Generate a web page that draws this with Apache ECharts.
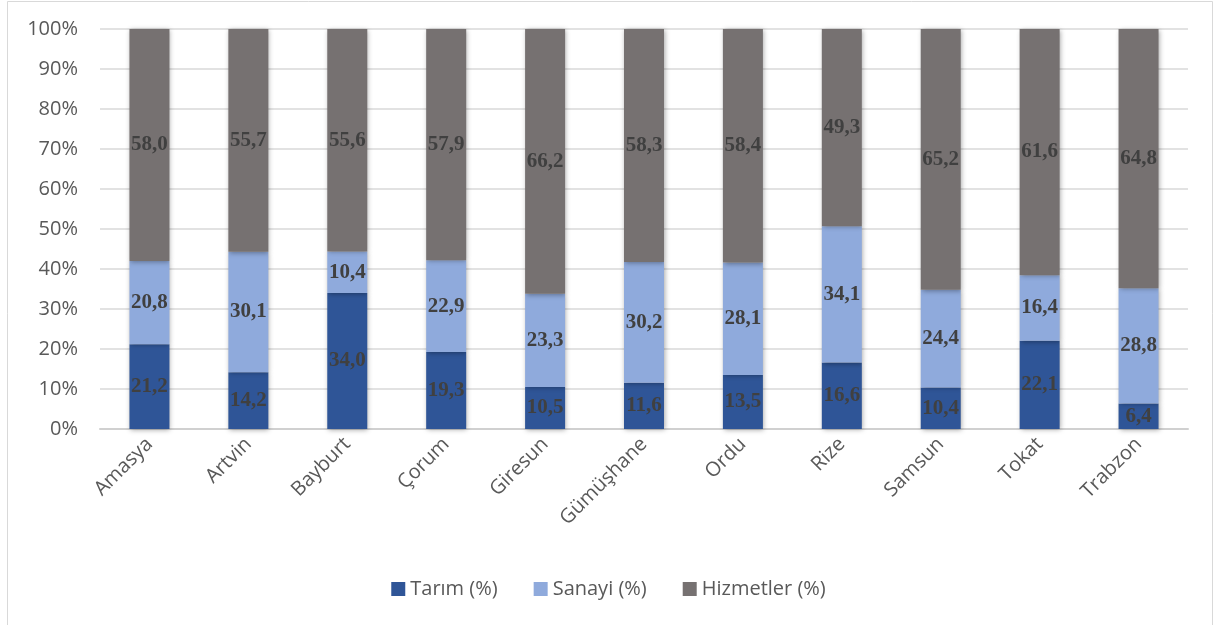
<!DOCTYPE html>
<html>
<head>
<meta charset="utf-8">
<script src="https://cdn.jsdelivr.net/npm/echarts@6/dist/echarts.min.js"></script>
<style>html,body{margin:0;padding:0;background:#fff;}#c{width:1217px;height:625px;}</style>
</head>
<body>
<div id="c"></div>
<script>
const categories = ['Amasya','Artvin','Bayburt','Çorum','Giresun','Gümüşhane','Ordu','Rize','Samsun','Tokat','Trabzon'];
const tarim = [21.2,14.2,34.0,19.3,10.5,11.6,13.5,16.6,10.4,22.1,6.4];
const sanayi = [20.8,30.1,10.4,22.9,23.3,30.2,28.1,34.1,24.4,16.4,28.8];
const hizmetler = [58.0,55.7,55.6,57.9,66.2,58.3,58.4,49.3,65.2,61.6,64.8];
const yTicks = [0,10,20,30,40,50,60,70,80,90,100];

const totals = categories.map((_, i) => tarim[i] + sanayi[i] + hizmetler[i]);
function pct(arr){ return arr.map((v,i) => ({value: v / totals[i] * 100, raw: v})); }

const labelStyle = {
  show: true, position: 'inside',
  fontFamily: 'Liberation Serif', fontWeight: 'bold', fontSize: 21, color: '#404040',
  formatter: p => p.data.raw.toFixed(1).replace('.', ',')
};
const shadow = {shadowBlur: 5, shadowColor: 'rgba(0,0,0,0.35)', shadowOffsetX: 1, shadowOffsetY: 1};

function mk(name, arr, color){
  return {
    name, type: 'bar', stack: 'all', data: pct(arr), barWidth: 40,
    itemStyle: Object.assign({color}, shadow),
    label: labelStyle
  };
}

const chart = echarts.init(document.getElementById('c'));
chart.setOption({
  animation: false,
  backgroundColor: '#fff',
  graphic: [{type: 'rect', shape: {x: 7.5, y: 1.5, width: 1205, height: 640}, style: {fill: 'none', stroke: '#d9d9d9', lineWidth: 1}, silent: true}],
  grid: {left: 100, right: 29, top: 29, bottom: 196},
  legend: {
    bottom: 21, left: 'center', itemWidth: 14, itemHeight: 14, itemGap: 36, itemTextGap: 7,
    icon: 'rect',
    textStyle: {fontFamily: 'Open Sans', fontSize: 20, color: '#595959'},
    data: ['Tarım (%)', 'Sanayi (%)', 'Hizmetler (%)']
  },
  xAxis: {
    type: 'category', data: categories,
    axisTick: {show: false},
    axisLine: {lineStyle: {color: '#d0d0d0', width: 2}},
    axisLabel: {rotate: 45, fontFamily: 'Open Sans', fontSize: 20, color: '#595959', margin: 12, interval: 0}
  },
  yAxis: {
    type: 'value', min: 0, max: 100, interval: 10,
    axisLine: {show: false}, axisTick: {show: false},
    splitLine: {lineStyle: {color: '#d9d9d9', width: 1.5}},
    axisLabel: {formatter: v => yTicks.includes(v) ? v + '%' : '', fontFamily: 'Open Sans', fontSize: 20, color: '#595959', margin: 22}
  },
  series: [
    mk('Tarım (%)', tarim, '#2F5597'),
    mk('Sanayi (%)', sanayi, '#8FAADC'),
    mk('Hizmetler (%)', hizmetler, '#767171')
  ]
});
</script>
</body>
</html>
